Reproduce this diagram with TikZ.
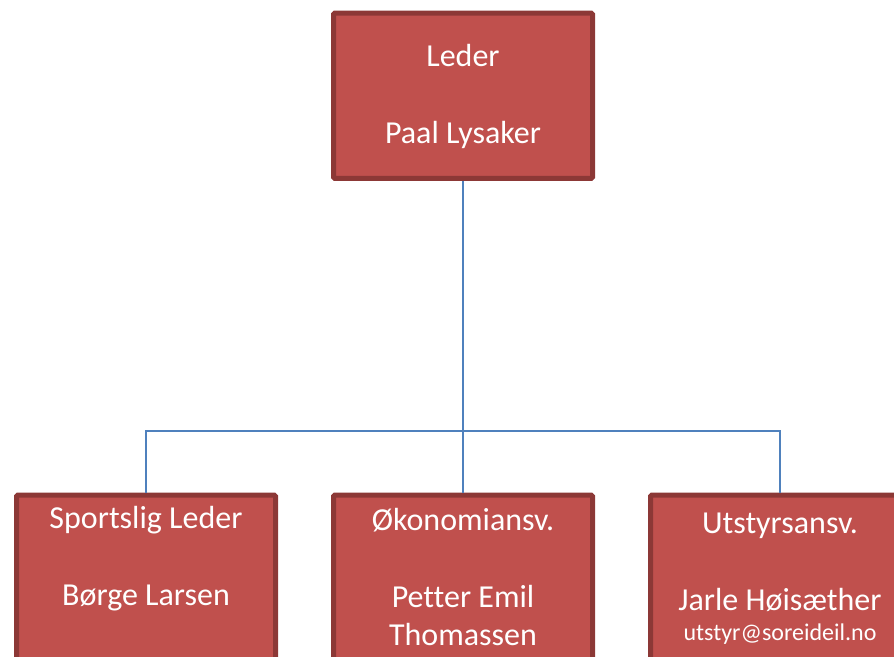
\documentclass[tikz,border=0pt]{standalone}
\usepackage{fontspec}
\setmainfont{Carlito}[Ligatures=NoCommon]
\definecolor{boxfill}{HTML}{C0504D}
\definecolor{boxline}{HTML}{8C3836}
\definecolor{conn}{HTML}{4F81BD}
\begin{document}
\begin{tikzpicture}[x=0.75pt,y=-0.75pt,
  orgbox/.style={draw=boxline,fill=boxfill,line width=3.75pt,rounded corners=1pt,
    minimum width=194.25pt,inner sep=0pt,anchor=north},
  txt/.style={text=white,anchor=base,inner sep=0pt,font=\fontsize{24}{28.9}\selectfont},
  small/.style={text=white,anchor=base,inner sep=0pt,font=\fontsize{18}{21}\selectfont},
  link/.style={draw=conn,line width=1.2pt}]
\useasboundingbox (0,0) rectangle (894,657);
\begin{scope}
\clip (0,0) rectangle (894,657);
% boxes
\node[orgbox,minimum height=124pt] (top) at (463,10.5) {};
\node[orgbox,minimum height=150pt] (left) at (146,492.5) {};
\node[orgbox,minimum height=150pt] (mid) at (463,492.5) {};
\node[orgbox,minimum height=150pt] (right) at (780,492.5) {};
% texts
\node[txt] (t1) at (463,66) {Leder};
\node[txt] (t2) at (463,143) {Paal Lysaker};
\node[txt] (l1) at (146,528) {Sportslig Leder};
\node[txt] (l2) at (146,605) {Børge Larsen};
\node[txt] (m1) at (463,530) {Økonomiansv.};
\node[txt] (m2) at (463,607) {Petter Emil};
\node[txt] (m3) at (463,645) {Thomassen};
\node[txt] (r1) at (780,533) {Utstyrsansv.};
\node[txt] (r2) at (780,610) {Jarle Høisæther};
\node[small] (r3) at (780,640) {utstyr@soreideil.no};
% connectors
\coordinate (bus) at (463,431);
\draw[link] (top.south) -- (bus);
\draw[link] (left.north) |- (bus) -| (right.north);
\draw[link] (bus) -- (mid.north);
\end{scope}
\end{tikzpicture}
\end{document}
